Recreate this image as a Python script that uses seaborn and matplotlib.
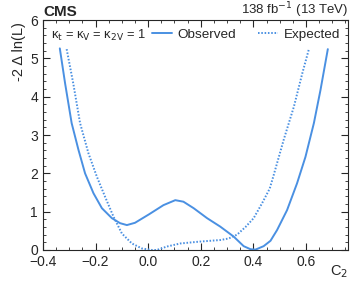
import matplotlib
matplotlib.use("Agg")
import matplotlib.pyplot as plt
import seaborn as sns
import pandas as pd
from matplotlib.ticker import MultipleLocator

obs_x = [-0.336, -0.316, -0.291, -0.265, -0.240, -0.208, -0.176, -0.138, -0.107, -0.081,
         -0.050, 0.003, 0.058, 0.103, 0.134, 0.173, 0.224, 0.274, 0.325, 0.363,
         0.389, 0.408, 0.439, 0.465, 0.490, 0.528, 0.566, 0.598, 0.630, 0.655, 0.683]
obs_y = [5.26, 4.35, 3.31, 2.61, 2.00, 1.48, 1.09, 0.83, 0.70, 0.65,
         0.71, 0.93, 1.17, 1.30, 1.26, 1.09, 0.83, 0.61, 0.35, 0.10,
         0.02, 0.01, 0.10, 0.24, 0.52, 1.04, 1.74, 2.43, 3.31, 4.17, 5.24]
exp_x = [-0.310, -0.285, -0.259, -0.227, -0.195, -0.164, -0.132, -0.100, -0.062, -0.024,
         0.014, 0.033, 0.071, 0.122, 0.198, 0.274, 0.306, 0.338, 0.370, 0.401,
         0.433, 0.462, 0.477, 0.515, 0.554, 0.586, 0.611]
exp_y = [5.24, 4.35, 3.31, 2.52, 1.91, 1.39, 0.87, 0.43, 0.17, 0.04,
         0.00, 0.00, 0.09, 0.17, 0.22, 0.26, 0.30, 0.40, 0.60, 0.83,
         1.22, 1.60, 1.95, 2.87, 3.74, 4.61, 5.24]

sns.set_style("ticks")
plt.rcParams['font.family'] = ['Liberation Sans', 'DejaVu Sans']

color = "#4a90e2"
fig = plt.figure(figsize=(3.57, 2.86), dpi=100)
ax = fig.add_axes([0.1204, 0.1259, 0.8546, 0.8041])

df_obs = pd.DataFrame({"x": obs_x, "y": obs_y})
df_exp = pd.DataFrame({"x": exp_x, "y": exp_y})
sns.lineplot(data=df_obs, x="x", y="y", ax=ax, color=color, lw=1.4, sort=False, label="Observed",
             solid_joinstyle="round")
sns.lineplot(data=df_exp, x="x", y="y", ax=ax, color=color, lw=1.4, ls=(0, (0.8, 0.9)), sort=False,
             label="Expected")

ax.set_xlim(-0.4, 0.76)
ax.set_ylim(0, 6)
ax.xaxis.set_major_locator(MultipleLocator(0.2))
ax.xaxis.set_minor_locator(MultipleLocator(0.05))
ax.yaxis.set_major_locator(MultipleLocator(1))
ax.yaxis.set_minor_locator(MultipleLocator(0.2))
ax.tick_params(which="both", direction="in", top=True, right=True, labelsize=10, pad=3.5)
ax.tick_params(which="major", length=5)
ax.tick_params(which="minor", length=2.5)
ax.set_xticks([-0.4, -0.2, 0.0, 0.2, 0.4, 0.6])
ax.set_xticklabels(["\u22120.4", "\u22120.2", "0.0", "0.2", "0.4", "0.6"])
for s in ax.spines.values():
    s.set_linewidth(0.8)

ax.set_xlabel("C$_2$", fontsize=10.5)
ax.xaxis.set_label_coords(1.0, -0.06)
ax.xaxis.label.set_ha("right")
ax.xaxis.label.set_va("top")
ax.set_ylabel("-2 \u0394 ln(L)", fontsize=10.5, ha="right", va="center")
ax.yaxis.set_label_coords(-0.079, 0.99)

ax.text(0.0, 1.005, "CMS", transform=ax.transAxes, fontsize=11, fontweight="bold", va="bottom", ha="left")
ax.text(1.0, 1.0, "138 fb$^{-1}$ (13 TeV)", transform=ax.transAxes, fontsize=9.5, va="bottom", ha="right")
ax.text(0.025, 0.935, "\u03ba$_\\mathrm{t}$ = \u03ba$_\\mathrm{V}$ = \u03ba$_\\mathrm{2V}$ = 1", transform=ax.transAxes,
        fontsize=9.3, va="center", ha="left")

leg = ax.legend(loc="center right", bbox_to_anchor=(1.0, 0.935), ncol=2, frameon=False, fontsize=9.7,
                handlelength=1.5, columnspacing=1.6, handletextpad=0.4, borderaxespad=0.2)

fig.savefig("out.png", dpi=100)
